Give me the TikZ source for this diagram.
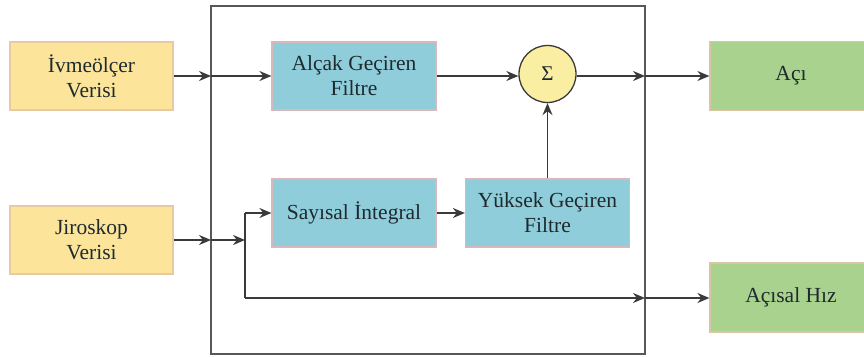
\documentclass[tikz,border=0pt]{standalone}
\usepackage{fontspec}
\setmainfont{Liberation Serif}
\usetikzlibrary{arrows.meta}
\definecolor{inyellow}{HTML}{FCE59B}
\definecolor{inyellowline}{HTML}{E9C9A2}
\definecolor{procblue}{HTML}{90CDDB}
\definecolor{procblueline}{HTML}{D8B8BA}
\definecolor{outgreen}{HTML}{A9D28F}
\definecolor{outgreenline}{HTML}{D9C6A4}
\definecolor{sumfill}{HTML}{F9EEA2}
\definecolor{wire}{HTML}{3A3A3A}
\definecolor{txt}{HTML}{1E2A2E}
\tikzset{
  x=1pt, y=-1pt,
  blockbase/.style={rectangle, line width=1.2pt, inner sep=0pt, align=center,
    text=txt, font=\fontsize{21.5}{25}\selectfont},
  inbox/.style={blockbase, fill=inyellow, draw=inyellowline, minimum width=163pt, minimum height=68pt},
  procbox/.style={blockbase, fill=procblue, draw=procblueline, minimum width=164pt, minimum height=68pt},
  outbox/.style={blockbase, fill=outgreen, draw=outgreenline, minimum width=162pt, minimum height=69pt},
  sumnode/.style={circle, fill=sumfill, draw=wire, line width=1.3pt, minimum size=57pt,
    inner sep=0pt, text=txt, font=\fontsize{21}{24}\selectfont},
  frame/.style={draw=wire!85, line width=1.6pt},
  wireline/.style={draw=wire, line width=1.5pt},
  flow/.style={wireline, -{Stealth[length=12pt, width=10pt]}},
}
\begin{document}
\begin{tikzpicture}
\useasboundingbox (0,0) rectangle (864,356);

% processing frame
\draw[frame] (211,6) rectangle (645,354);

% inputs
\node[inbox] (ivme) at (91.5,76) {İvmeölçer\\Verisi};
\node[inbox] (jiro) at (91.5,240) {Jiroskop\\Verisi};

% processing blocks
\node[procbox] (lpf) at (354,76) {Alçak Geçiren\\Filtre};
\node[procbox] (integ) at (354,213) {Sayısal İntegral};
\node[procbox] (hpf) at (547.5,213) {Yüksek Geçiren\\Filtre};
\node[sumnode] (sum) at (547.5,74) {Σ};

% outputs
\node[outbox] (aci) at (791,76) {Açı};
\node[outbox] (hiz) at (791,297.5) {Açısal Hız};

% frame crossings and branch points
\coordinate (inA) at (211,76);
\coordinate (inG) at (211,240);
\coordinate (outA) at (645,76);
\coordinate (outH) at (645,298);
\coordinate (split) at (245,240);
\coordinate (splitTop) at (245,213);
\coordinate (splitBot) at (245,298);

% angle path
\draw[flow] (ivme.east) -- (inA);
\draw[flow] (inA) -- (lpf.west);
\draw[flow] (lpf.east) -- (sum.west |- lpf.east);
\draw[flow] (sum.east |- lpf.east) -- (outA);
\draw[flow] (outA) -- (aci.west);

% gyro path
\draw[flow] (jiro.east |- inG) -- (inG);
\draw[flow] (inG) -- (split);
\draw[wireline] (splitTop) -- (splitBot);
\draw[flow] (splitTop) -- (integ.west);
\draw[flow] (integ.east) -- (hpf.west);
\draw[flow] (hpf.north) -- (sum.south);
\draw[flow] (splitBot) -- (outH);
\draw[flow] (outH) -- (hiz.west |- outH);
\end{tikzpicture}
\end{document}
